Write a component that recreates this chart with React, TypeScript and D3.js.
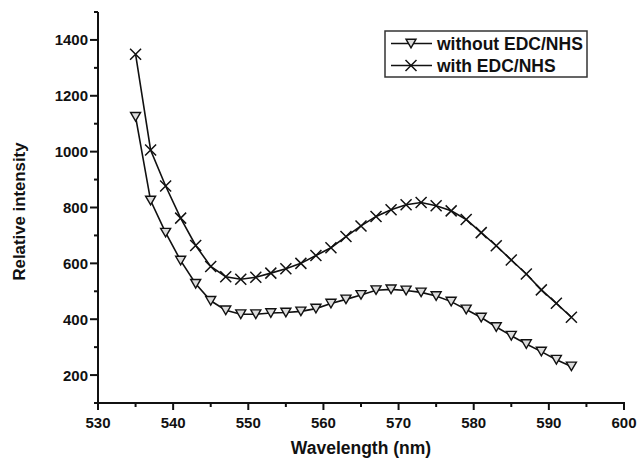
import React from 'react';
import * as d3 from 'd3';

const wavelengths = [535, 537, 539, 541, 543, 545, 547, 549, 551, 553, 555, 557, 559, 561, 563, 565, 567, 569, 571, 573, 575, 577, 579, 581, 583, 585, 587, 589, 591, 593];
const withoutEDC = [1125, 825, 710, 610, 527, 466, 432, 418, 418, 422, 424, 428, 438, 456, 471, 487, 504, 507, 503, 496, 483, 463, 435, 406, 372, 341, 311, 284, 255, 231];
const withEDC = [1349, 1006, 877, 762, 664, 589, 552, 543, 550, 565, 581, 600, 628, 656, 696, 734, 768, 792, 810, 818, 806, 788, 757, 710, 663, 612, 562, 505, 457, 407];
const seriesNames = ['without EDC/NHS', 'with EDC/NHS'];
const xMajorTicks = [530, 540, 550, 560, 570, 580, 590, 600];
const xMinorTicks = [535, 545, 555, 565, 575, 585, 595];
const yMajorTicks = [200, 400, 600, 800, 1000, 1200, 1400];
const yMinorTicks = [100, 300, 500, 700, 900, 1100, 1300, 1500];

const W = 639, H = 459;
const left = 98, right = 624, top = 12, bottom = 403;
const font = 'Liberation Sans, Arial, Helvetica, sans-serif';

function Tri({ x, y }: { x: number; y: number }) {
  return <path d={`M${x - 5},${y - 4.3}L${x + 5},${y - 4.3}L${x},${y + 4.3}Z`} fill="#dcdcdc" stroke="#111" strokeWidth={1.4} strokeLinejoin="miter" />;
}
function Cross({ x, y }: { x: number; y: number }) {
  const s = 5.5;
  return <path d={`M${x - s},${y - s}L${x + s},${y + s}M${x - s},${y + s}L${x + s},${y - s}`} stroke="#111" strokeWidth={1.5} fill="none" />;
}

export default function App() {
  const xs = d3.scaleLinear().domain([530, 600]).range([left, right]);
  const ys = d3.scaleLinear().domain([100, 1500]).range([bottom, top]);
  const line = d3.line<[number, number]>().x(d => xs(d[0])).y(d => ys(d[1]));
  const d1 = wavelengths.map((w, i) => [w, withoutEDC[i]] as [number, number]);
  const d2 = wavelengths.map((w, i) => [w, withEDC[i]] as [number, number]);
  const textStyle = { fontFamily: font, fill: '#111' } as React.CSSProperties;

  return (
    <svg width={W} height={H} style={{ position: 'absolute', left: 0, top: 0, background: '#fff' }}>
      {/* axes */}
      <line x1={left} x2={left} y1={top} y2={bottom + 1} stroke="#111" strokeWidth={2} />
      <line x1={left - 1} x2={right + 1} y1={bottom} y2={bottom} stroke="#111" strokeWidth={2} />
      {xMajorTicks.map(t => (
        <g key={'xm' + t}>
          <line x1={xs(t)} x2={xs(t)} y1={bottom} y2={bottom + 7} stroke="#111" strokeWidth={2} />
          <text x={xs(t)} y={428} textAnchor="middle" fontSize={15} fontWeight="bold" style={textStyle}>{t}</text>
        </g>
      ))}
      {xMinorTicks.map(t => (
        <line key={'xn' + t} x1={xs(t)} x2={xs(t)} y1={bottom} y2={bottom + 4} stroke="#111" strokeWidth={2} />
      ))}
      {yMajorTicks.map(t => (
        <g key={'ym' + t}>
          <line x1={left - 8} x2={left} y1={ys(t)} y2={ys(t)} stroke="#111" strokeWidth={2} />
          <text x={88} y={ys(t) + 5.5} textAnchor="end" fontSize={15} fontWeight="bold" style={textStyle}>{t}</text>
        </g>
      ))}
      {yMinorTicks.map(t => (
        <line key={'yn' + t} x1={left - 4} x2={left} y1={ys(t)} y2={ys(t)} stroke="#111" strokeWidth={2} />
      ))}
      <text x={(left + right) / 2} y={454} textAnchor="middle" fontSize={17.5} fontWeight="bold" style={textStyle}>Wavelength (nm)</text>
      <text transform={`translate(25,${(top + bottom) / 2 + 4}) rotate(-90)`} textAnchor="middle" fontSize={16.8} fontWeight="bold" style={textStyle}>Relative intensity</text>

      {/* series */}
      <path d={line(d1) || ''} fill="none" stroke="#111" strokeWidth={1.6} />
      <path d={line(d2) || ''} fill="none" stroke="#111" strokeWidth={1.6} />
      {d1.map((d, i) => <Tri key={'t' + i} x={xs(d[0])} y={ys(d[1])} />)}
      {d2.map((d, i) => <Cross key={'c' + i} x={xs(d[0])} y={ys(d[1])} />)}

      {/* legend */}
      <rect x={385} y={31} width={202} height={46} fill="#fff" stroke="#333" strokeWidth={1.5} />
      <line x1={391} x2={432} y1={43.5} y2={43.5} stroke="#111" strokeWidth={1.6} />
      <Tri x={411} y={43.5} />
      <text x={437} y={49.5} fontSize={17.5} fontWeight="bold" style={textStyle}>{seriesNames[0]}</text>
      <line x1={391} x2={432} y1={65.5} y2={65.5} stroke="#111" strokeWidth={1.6} />
      <Cross x={411} y={65.5} />
      <text x={437} y={71.5} fontSize={17.5} fontWeight="bold" style={textStyle}>{seriesNames[1]}</text>
    </svg>
  );
}
